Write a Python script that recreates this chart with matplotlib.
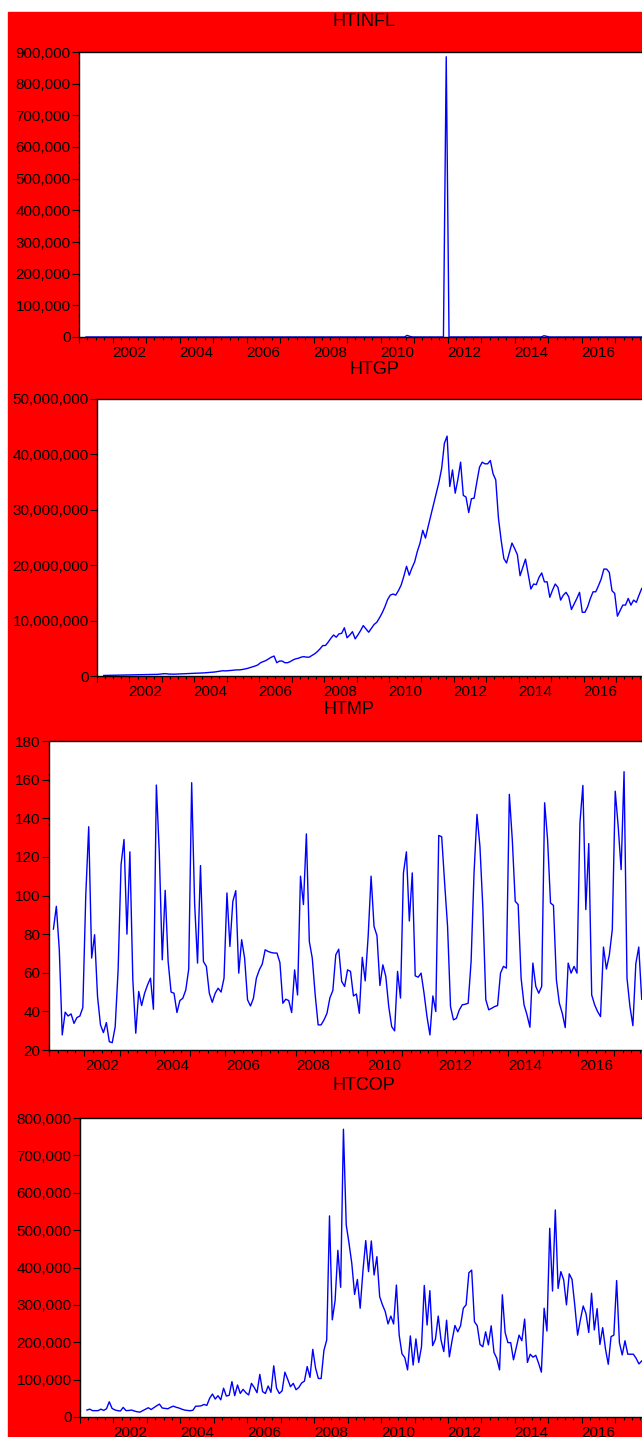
import numpy as np
import matplotlib.pyplot as plt
from matplotlib.ticker import FuncFormatter, MultipleLocator

plt.rcParams['font.family'] = ['Liberation Sans', 'DejaVu Sans']

# monthly series, month index 0 = Jan 2001
htinfl_start = 2  # thousands
htinfl = [
    0, 0, 0, 0, 0, 0, 0, 0, 0, 0,
    0, 0, 0, 0, 0, 0, 0, 0, 0, 0, 0, 0,
    0, 0, 0, 0, 0, 0, 0, 0, 0, 0, 0, 0,
    0, 0, 0, 0, 0, 0, 0, 0, 0, 0, 0, 0,
    0, 0, 0, 0, 0, 0, 0, 0, 0, 0, 0, 0,
    0, 0, 0, 0, 0, 0, 0, 0, 0, 0, 0, 0,
    0, 0, 0, 0, 0, 0, 0, 0, 0, 0, 0, 0,
    0, 0, 0, 0, 0, 0, 0, 0, 0, 0, 0, 0,
    0, 0, 0, 0, 0, 0, 0, 0, 0, 0, 0, 0,
    0, 0, 0, 0, 0, 0, 0, 0, 0, 5, 2, 0,
    0, 0, 0, 0, 0, 0, 0, 0, 0, 0, 0, 885,
    0, 0, 0, 0, 0, 0, 0, 0, 0, 0, 0, 0,
    0, 0, 0, 0, 0, 0, 0, 0, 0, 0, 0, 0,
    0, 0, 0, 0, 0, 0, 0, 0, 0, 0, 4, 2,
    0, 0, 0, 0, 0, 0, 0, 0, 0, 0, 0, 0,
    0, 0, 0, 0, 0, 0, 0, 0, 0, 0, 0, 0,
    0, 0, 0, 0, 0, 0, 0, 0, 0, 0,
]

htgp_start = 2  # millions
htgp = [
    0.10, 0.10, 0.12, 0.13, 0.14, 0.15, 0.15, 0.16, 0.17, 0.18,
    0.18, 0.20, 0.20, 0.22, 0.22, 0.24, 0.25, 0.25, 0.26, 0.28, 0.30, 0.35,
    0.40, 0.42, 0.35, 0.33, 0.33, 0.35, 0.36, 0.38, 0.40, 0.42, 0.45, 0.47,
    0.50, 0.52, 0.55, 0.56, 0.60, 0.63, 0.66, 0.72, 0.80, 0.90, 0.95, 0.92,
    0.95, 1.00, 1.05, 1.10, 1.10, 1.15, 1.25, 1.35, 1.50, 1.65, 1.80, 2.00,
    2.40, 2.60, 2.80, 3.10, 3.40, 3.60, 2.40, 2.70, 2.70, 2.40, 2.40, 2.60,
    2.90, 3.10, 3.20, 3.40, 3.50, 3.40, 3.40, 3.70, 4.00, 4.40, 4.90, 5.50,
    5.50, 6.10, 6.80, 7.40, 7.00, 7.60, 7.70, 8.70, 6.90, 7.40, 8.00, 6.70,
    7.40, 8.20, 9.10, 8.50, 7.90, 8.60, 9.30, 9.70, 10.5, 11.4, 12.5, 13.8,
    14.6, 14.8, 14.6, 15.4, 16.4, 18.0, 19.8, 18.2, 19.5, 20.6, 22.5, 24.0,
    26.3, 24.9, 27.0, 29.0, 31.0, 33.0, 35.0, 37.5, 42.0, 43.3, 34.2, 37.2,
    33.0, 35.5, 38.6, 32.6, 32.3, 29.5, 32.0, 32.1, 35.0, 37.7, 38.6, 38.3,
    38.3, 38.9, 36.5, 35.4, 28.5, 24.5, 21.2, 20.4, 22.2, 24.0, 23.0, 21.9,
    18.1, 19.6, 21.1, 18.4, 15.7, 16.6, 16.5, 17.8, 18.6, 17.0, 17.0, 14.2,
    15.5, 16.6, 16.0, 13.7, 14.6, 15.1, 14.3, 12.0, 13.0, 14.0, 15.1, 11.5,
    11.5, 12.5, 14.0, 15.2, 15.2, 16.3, 17.5, 19.3, 19.3, 18.7, 15.4, 14.9,
    10.8, 11.8, 12.8, 12.8, 14.0, 12.8, 13.7, 13.3, 14.6, 15.8,
]

htmp_start = 1
htmp = [
    82.6, 94.4, 71.9, 27.8, 39.6, 37.6, 38.7, 33.8, 36.8, 37.6, 42,
    100, 135.6, 67.6, 79.7, 47.7, 33, 29, 34.2, 24.3, 23.8, 32, 61.5,
    116, 129, 80, 122.6, 56.3, 28.7, 50.3, 43, 49.4, 53.7, 57.2, 41.1,
    157.2, 122, 66.7, 102.7, 65.8, 50, 49.4, 39.4, 45.6, 46.8, 51.1, 61.9,
    158.4, 96.1, 65, 115.5, 65.8, 63.3, 49.4, 44.7, 49.4, 52, 50, 57.2,
    101.3, 73.6, 97, 102.5, 59.8, 77.1, 67.6, 46, 42.8, 46.8, 57.2, 61.5,
    64.5, 71.9, 71, 70.5, 70.2, 70.2, 65.3, 44.2, 46.3, 45.6, 39.4, 61.5,
    48.5, 110, 95.3, 131.9, 76.2, 67.6, 48.5, 33, 33, 35.6, 39, 47,
    50.8, 69.3, 72.2, 55.5, 52.9, 61.5, 60.7, 48, 49, 39, 68, 55.8,
    78.8, 110, 84, 79.2, 53.4, 64.1, 58.1, 42.5, 32.1, 29.9, 60.7, 46.9,
    111.7, 122.6, 86.8, 111.7, 58.4, 57.7, 59.8, 49.4, 37.3, 27.8, 48, 39.9,
    131.1, 130.4, 106.5, 84, 42.5, 35.6, 36.4, 40.8, 43.4, 43.7, 44.2, 65.8,
    111.7, 142, 125.5, 93.5, 46, 40.8, 41.6, 42.5, 43, 59.8, 63.3, 62.4,
    152.4, 129, 97, 95.3, 57.2, 43.4, 38.2, 31.8, 65, 52.9, 49.4, 52.9,
    148, 129, 96.1, 94.9, 56.3, 44.2, 39, 31.6, 65, 59.8, 63.3, 59.8,
    137.6, 157, 92.7, 126.9, 48.5, 43.4, 39.9, 37.3, 73.3, 61.9, 69.3, 82.3,
    154, 135.9, 113.4, 164.1, 57.2, 42.5, 32.6, 64.7, 73.3, 46.3,
]

htcop_start = 2  # thousands
htcop = [
    18.6, 21, 17, 17, 17, 21, 17.7, 22, 40.7, 23,
    19, 17, 16, 25.7, 17, 17.5, 18.6, 16, 14, 13, 17, 21,
    24.8, 20, 25, 30, 34.5, 24, 23, 22, 26, 29, 26, 24,
    21, 18.6, 17.5, 16.8, 18, 29, 29, 30, 33.6, 31, 50, 61.5,
    48, 57, 46, 77, 56, 58, 94.6, 57, 85.6, 63, 74, 65,
    59, 90, 79, 65, 114, 68, 63, 83, 66, 137, 77, 63,
    70, 120, 101, 81, 90, 73, 79, 91, 96, 135, 106, 181,
    131, 103, 103, 178, 206, 538, 260, 311, 446, 347, 770, 514,
    465, 411, 328, 368, 291, 391, 472, 389, 471, 380, 429, 322,
    300, 282, 249, 270, 249, 353, 219, 169, 159, 126, 217, 139,
    209, 146, 188, 352, 246, 338, 191, 208, 270, 206, 175, 259,
    161, 206, 245, 228, 244, 291, 300, 386, 393, 255, 244, 194,
    188, 228, 193, 244, 173, 157, 126, 327, 226, 199, 199, 153,
    186, 219, 204, 262, 146, 168, 160, 165, 144, 120, 291, 230,
    505, 337, 554, 344, 389, 367, 300, 383, 368, 298, 219, 260,
    297, 277, 226, 331, 233, 290, 194, 239, 182, 141, 215, 219,
    365, 199, 166, 204, 168, 168, 168, 157, 142, 150,
]

year_labels = ['2002', '2004', '2006', '2008', '2010', '2012', '2014', '2016']
label_years = [2002, 2004, 2006, 2008, 2010, 2012, 2014, 2016]

W, H = 642, 1437
fig = plt.figure(figsize=(W / 100, H / 100), dpi=100)
red = plt.Rectangle((8 / W, 0), 1 - 8 / W, (H - 12) / H,
                    transform=fig.transFigure, color='#ff0000', zorder=-10)
fig.add_artist(red)


def px_axes(left, top, bottom):
    return fig.add_axes([left / W, 1 - bottom / H, (W - left) / W, (bottom - top) / H])


def months(start, n):
    return 2001 + (np.arange(start, start + n) + 0.5) / 12


panels = [
    # title, values, start, unit, ymin, ymax, ystep, (left, top, bottom), title_xy
    ('HTINFL', htinfl, htinfl_start, 1e3, 0, 900000, 100000, (79, 52, 337), (364, 22)),
    ('HTGP', htgp, htgp_start, 1e6, 0, 50000000, 10000000, (97, 399, 676), (374, 370)),
    ('HTMP', htmp, htmp_start, 1, 20, 180, 20, (49, 741, 1050), (349, 709)),
    ('HTCOP', htcop, htcop_start, 1e3, 0, 800000, 100000, (80, 1118, 1417), (364, 1086)),
]

for title, vals, start, unit, ymin, ymax, ystep, box, txy in panels:
    ax = px_axes(*box)
    ax.set_zorder(1)
    ax.set_facecolor('white')
    t = months(start, len(vals))
    ax.plot(t, np.array(vals) * unit, color='#0000ff', lw=1.0)
    ax.set_ylim(ymin, ymax)
    ax.set_xlim(2001.0, 2017.8)
    ax.yaxis.set_major_locator(MultipleLocator(ystep))
    ax.yaxis.set_major_formatter(FuncFormatter(lambda v, p: f'{v:,.0f}'))
    ax.set_xticks(np.arange(2001, 2018))
    ax.set_xticklabels([])
    ax.set_xticks(np.arange(2001, 2018, 0.25), minor=True)
    ax.tick_params(axis='y', direction='out', length=5, width=0.8, pad=1,
                   labelsize=11, colors='black')
    ax.tick_params(axis='x', which='major', direction='out', length=4, width=0.8)
    ax.tick_params(axis='x', which='minor', direction='out', length=2.5, width=0.8)
    for s in ['top', 'left', 'bottom']:
        ax.spines[s].set_linewidth(1.0)
        ax.spines[s].set_color('black')
    ax.spines['right'].set_visible(False)
    for yr, lab in zip(label_years, year_labels):
        ax.annotate(lab, xy=(yr + 0.5, 0), xycoords=('data', 'axes fraction'),
                    xytext=(0, -16), textcoords='offset pixels',
                    ha='center', va='center', fontsize=11, annotation_clip=False)
    fig.text(txy[0] / W, 1 - txy[1] / H, title, ha='center', va='center', fontsize=13)

fig.savefig('out.png', dpi=100)
